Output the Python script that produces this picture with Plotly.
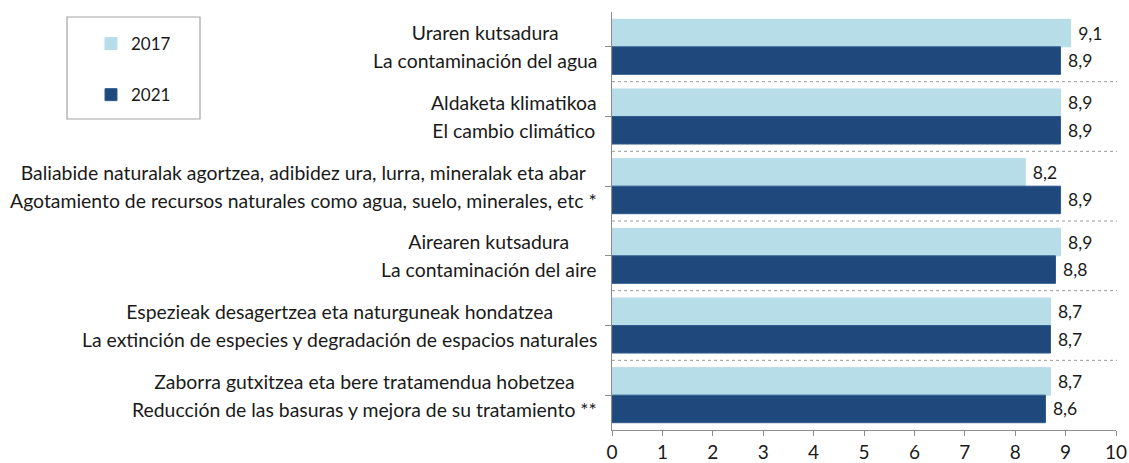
import plotly.graph_objects as go

cat_eu = [
    "Uraren kutsadura",
    "Aldaketa klimatikoa",
    "Baliabide naturalak agortzea, adibidez ura, lurra, mineralak eta abar",
    "Airearen kutsadura",
    "Espezieak desagertzea eta naturguneak hondatzea",
    "Zaborra gutxitzea eta bere tratamendua hobetzea",
]
cat_es = [
    "La contaminación del agua",
    "El cambio climático",
    "Agotamiento de recursos naturales como agua, suelo, minerales, etc *",
    "La contaminación del aire",
    "La extinción de especies y degradación de espacios naturales",
    "Reducción de las basuras y mejora de su tratamiento **",
]
vals_2017 = [9.1, 8.9, 8.2, 8.9, 8.7, 8.7]
vals_2021 = [8.9, 8.9, 8.9, 8.8, 8.7, 8.6]
x_ticks = list(range(0, 11))

FONT = "Lato"
TXT = "#1a1a1a"
C17 = "#B7DDE8"
C21 = "#1F497D"

pos = list(range(len(cat_eu)))

W, H = 1129, 463
ML, MR, MT, MB = 612, 13, 12, 33
PW, PH = W - ML - MR, H - MT - MB

fig = go.Figure()
fig.add_trace(go.Bar(
    name="2017", y=pos, x=vals_2017, orientation="h",
    marker=dict(color=C17, line=dict(color=C17, width=1)),
    text=vals_2017, texttemplate="\u00a0%{x:.1f}", textposition="outside",
    textfont=dict(family=FONT, size=17.5, color=TXT),
    cliponaxis=False, legendgroup="a",
))
fig.add_trace(go.Bar(
    name="2021", y=pos, x=vals_2021, orientation="h",
    marker=dict(color=C21, line=dict(color="#2E5A8C", width=1)),
    text=vals_2021, texttemplate="\u00a0%{x:.1f}", textposition="outside",
    textfont=dict(family=FONT, size=17.5, color=TXT),
    cliponaxis=False, legendgroup="b",
))

annotations = []
for i, (a, b) in enumerate(zip(cat_eu, cat_es)):
    annotations.append(dict(
        xref="paper", yref="y", x=0, y=i, xanchor="right", yanchor="middle",
        xshift=-13, align="center", showarrow=False,
        text=f"<span style='font-size:19.4px'>{a}</span><br><span style='font-size:19.4px'>{b}</span>",
        font=dict(family=FONT, size=21.5, color=TXT),
    ))

shapes = []
for i in range(len(cat_eu) - 1):
    shapes.append(dict(
        type="line", xref="paper", yref="y", x0=0, x1=1.002, y0=i + 0.5, y1=i + 0.5,
        line=dict(color="#9a9a9a", width=1, dash="dot"),
    ))
# legend frame
shapes.append(dict(
    type="rect", xref="paper", yref="paper",
    x0=(67 - ML) / PW, x1=(200 - ML) / PW,
    y0=(H - MB - 119) / PH, y1=(H - MB - 17) / PH,
    line=dict(color="#a6a6a6", width=1.2), fillcolor="rgba(0,0,0,0)",
))

fig.update_layout(
    width=W, height=H,
    margin=dict(l=ML, r=MR, t=MT, b=MB, autoexpand=False),
    paper_bgcolor="white", plot_bgcolor="white",
    barmode="group", bargap=0.21, bargroupgap=0,
    separators=", ",
    font=dict(family=FONT, size=16, color=TXT),
    showlegend=True,
    legend=dict(
        xref="container", yref="container",
        x=91 / W, y=1 - 26 / H, xanchor="left", yanchor="top",
        font=dict(family=FONT, size=17, color=TXT),
        tracegroupgap=26, traceorder="grouped",
        bgcolor="rgba(0,0,0,0)", borderwidth=0,
        itemwidth=30,
    ),
    xaxis=dict(
        range=[0, 10], tickvals=x_ticks, ticktext=[str(t) for t in x_ticks],
        showgrid=False, zeroline=False, automargin=False,
        showline=True, linecolor="#8c8c8c", linewidth=1,
        ticks="outside", ticklen=5, tickcolor="#8c8c8c",
        tickfont=dict(family=FONT, size=19, color=TXT),
    ),
    yaxis=dict(
        range=[len(cat_eu) - 0.5, -0.5], tickvals=pos, ticktext=[""] * len(pos),
        showgrid=False, zeroline=False, automargin=False,
        showline=True, linecolor="#8c8c8c", linewidth=1,
        ticks="outside", ticklen=6, tickcolor="#8c8c8c",
        tickson="boundaries",
        showticklabels=False,
    ),
    annotations=annotations,
    shapes=shapes,
)

fig.write_html(
    "out.html",
    config={"displayModeBar": False},
    post_script="document.body.style.margin='0';document.body.style.overflow='hidden';",
)
